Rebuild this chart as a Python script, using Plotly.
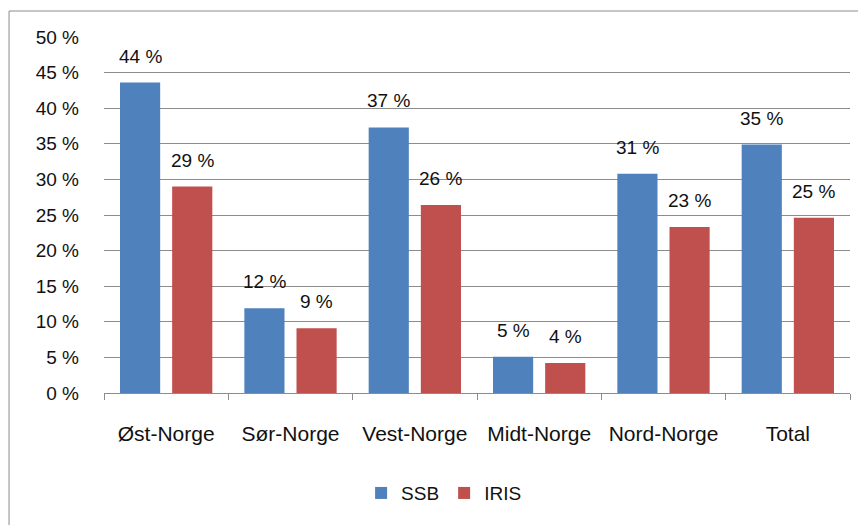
import plotly.graph_objects as go

# Data
regions = ["Øst-Norge", "Sør-Norge", "Vest-Norge", "Midt-Norge", "Nord-Norge", "Total"]
ssb = [43.6, 11.9, 37.3, 5.1, 30.8, 34.9]
iris = [29.0, 9.1, 26.4, 4.2, 23.3, 24.6]
y_ticks = [0, 5, 10, 15, 20, 25, 30, 35, 40, 45, 50]

BLUE = "#4F81BD"
RED = "#C0504D"
GRID = "#8C8C8C"
FONT = "Liberation Sans"

fig = go.Figure()
fig.add_trace(go.Bar(name="SSB", x=regions, y=ssb, marker_color=BLUE, marker_line_width=0))
fig.add_trace(go.Bar(name="IRIS", x=regions, y=iris, marker_color=RED, marker_line_width=0))

# Value labels above each bar
for series, shift in ((ssb, -26), (iris, 26)):
    for region, val in zip(regions, series):
        fig.add_annotation(
            x=region, y=val, text=f"{val:.0f} %",
            xshift=shift, yshift=14, yanchor="bottom",
            showarrow=False, font=dict(family=FONT, size=19, color="#111"),
        )

# Outer chart border (left/top visible, continues past the window)
fig.add_shape(
    type="rect", xref="paper", yref="paper",
    x0=-0.1273, x1=1.2, y0=-0.6, y1=1.073,
    line=dict(color=GRID, width=1), fillcolor="rgba(0,0,0,0)", layer="below",
)

fig.update_layout(
    width=866, height=525,
    margin=dict(l=96, r=24, t=29, b=140),
    paper_bgcolor="white", plot_bgcolor="white",
    barmode="group", bargap=0.161, bargroupgap=0.23,
    font=dict(family=FONT, size=19, color="#111"),
    showlegend=True,
    legend=dict(
        orientation="h", xref="container", yref="container",
        x=0.503, y=0.076, xanchor="center", yanchor="middle",
        font=dict(size=19), itemwidth=30,
    ),
)
fig.update_xaxes(
    showline=True, linecolor=GRID, linewidth=1,
    ticks="outside", ticklen=6, tickcolor=GRID, tickson="boundaries",
    ticklabelstandoff=22, tickfont=dict(size=21),
    showgrid=False,
)
fig.update_yaxes(
    range=[0, 50], tickvals=y_ticks, ticktext=[f"{v} %" for v in y_ticks],
    showgrid=True, gridcolor=GRID, gridwidth=1,
    showline=False, zeroline=False, ticks="", ticklabelstandoff=24,
)

fig.write_html("out.html")
